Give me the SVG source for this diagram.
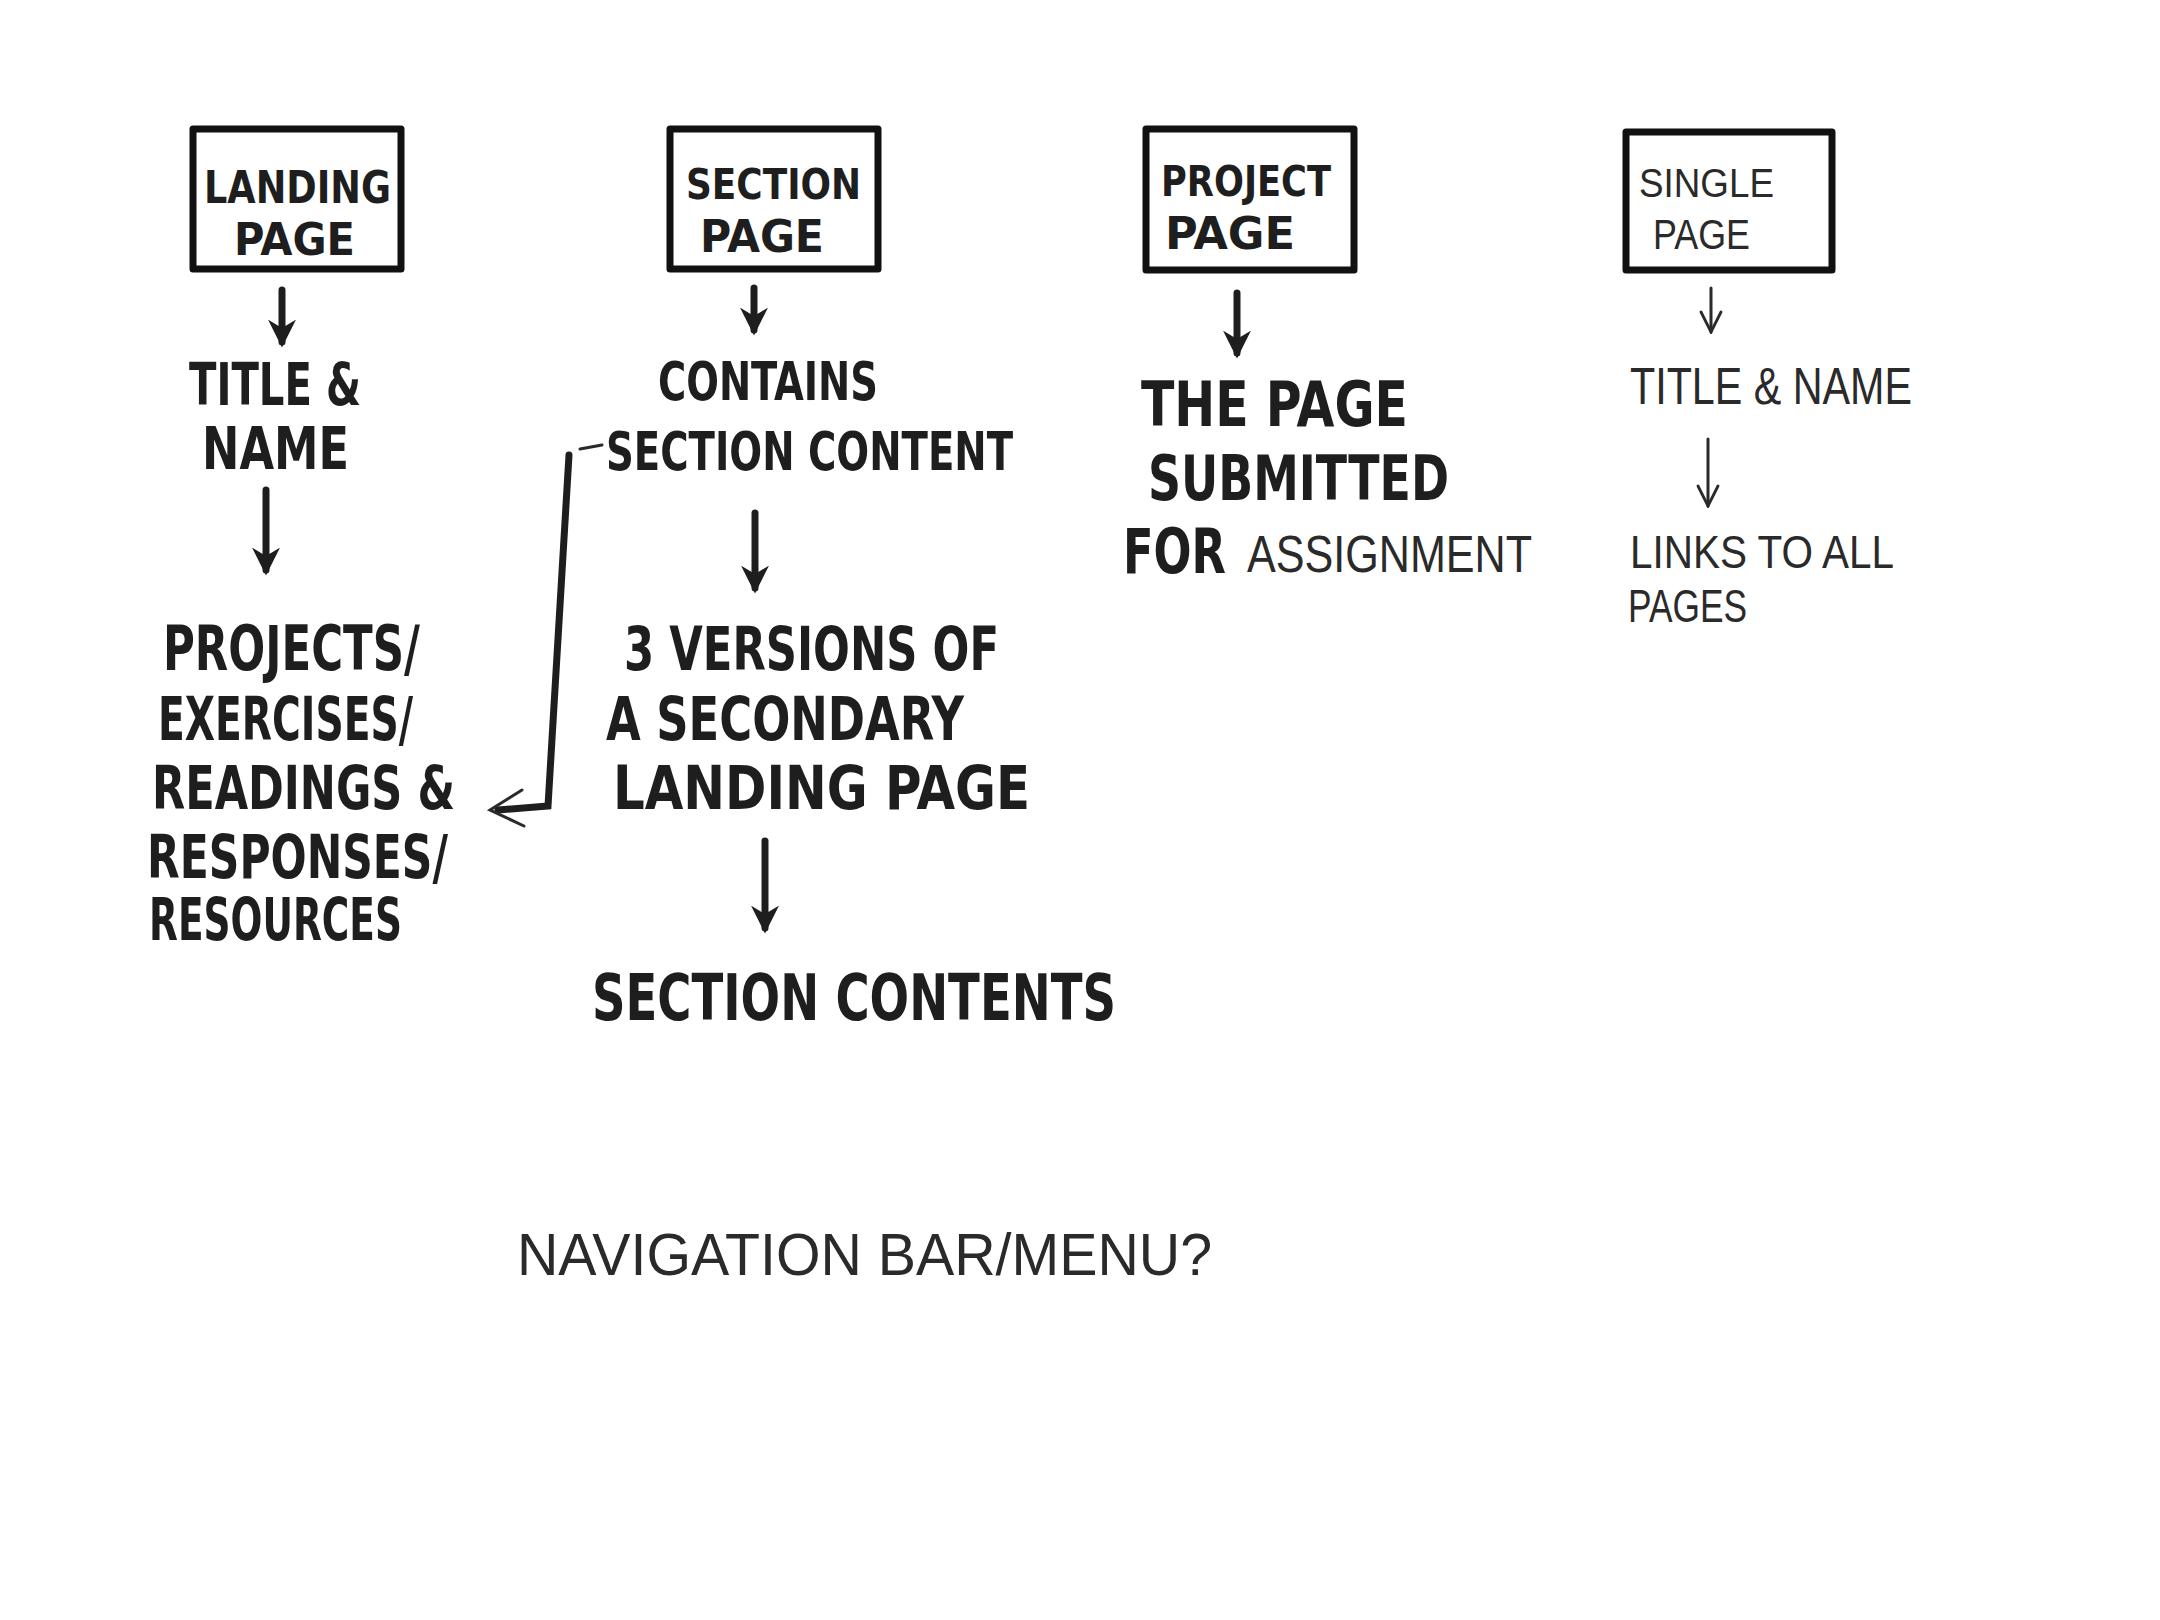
<svg xmlns="http://www.w3.org/2000/svg" width="2160" height="1620" viewBox="0 0 2160 1620">
<style>
.box{fill:#fff;stroke:#111;stroke-width:7;stroke-linejoin:round}
.b{font-family:"DejaVu Sans Condensed","DejaVu Sans","Liberation Sans",sans-serif;font-weight:bold;fill:#1e1e1e}
.t{font-family:"Liberation Sans","DejaVu Sans",sans-serif;font-weight:normal;fill:#2a2a2a}
.thick{fill:none;stroke:#1e1e1e;stroke-width:7;stroke-linecap:round}
.thin{fill:none;stroke:#2a2a2a;stroke-width:3;stroke-linecap:round}
</style>
<defs>
<marker id="hb" viewBox="0 0 10 10" refX="8" refY="5" markerWidth="4" markerHeight="4" orient="auto" markerUnits="strokeWidth">
<path d="M0,0 L10,5 L0,10 L3,5 z" fill="#1e1e1e"/>
</marker>
<marker id="ho" viewBox="0 0 12 12" refX="11" refY="6" markerWidth="8" markerHeight="8" orient="auto" markerUnits="strokeWidth">
<path d="M1,1 L11,6 L1,11" fill="none" stroke="#2a2a2a" stroke-width="1.4" stroke-linecap="round"/>
</marker>
</defs>
<rect width="2160" height="1620" fill="#fff"/>

<g id="node-landing">
<rect class="box" x="193" y="129" width="208" height="140"/>
<text class="b" x="204" y="203" font-size="44" textLength="187" lengthAdjust="spacingAndGlyphs">LANDING</text>
<text class="b" x="234" y="255" font-size="44" textLength="121" lengthAdjust="spacingAndGlyphs">PAGE</text>
</g>
<g id="node-section">
<rect class="box" x="670" y="129" width="208" height="140"/>
<text class="b" x="686" y="199" font-size="42" textLength="175" lengthAdjust="spacingAndGlyphs">SECTION</text>
<text class="b" x="700" y="252" font-size="44" textLength="124" lengthAdjust="spacingAndGlyphs">PAGE</text>
</g>
<g id="node-project">
<rect class="box" x="1146" y="129" width="208" height="141"/>
<text class="b" x="1161" y="196" font-size="42" textLength="170" lengthAdjust="spacingAndGlyphs">PROJECT</text>
<text class="b" x="1165" y="249" font-size="44" textLength="130" lengthAdjust="spacingAndGlyphs">PAGE</text>
</g>
<g id="node-single">
<rect class="box" x="1626" y="132" width="206" height="138"/>
<text class="t" x="1639" y="197" font-size="40" textLength="135" lengthAdjust="spacingAndGlyphs">SINGLE</text>
<text class="t" x="1653" y="249" font-size="42" textLength="97" lengthAdjust="spacingAndGlyphs">PAGE</text>
</g>

<g id="landing-texts">
<text class="b" x="189" y="405" font-size="58" textLength="172" lengthAdjust="spacingAndGlyphs">TITLE &amp;</text>
<text class="b" x="202" y="469" font-size="58" textLength="147" lengthAdjust="spacingAndGlyphs">NAME</text>
<text class="b" x="163" y="670" font-size="62" textLength="257" lengthAdjust="spacingAndGlyphs">PROJECTS/</text>
<text class="b" x="158" y="740" font-size="60" textLength="255" lengthAdjust="spacingAndGlyphs">EXERCISES/</text>
<text class="b" x="152" y="809" font-size="60" textLength="303" lengthAdjust="spacingAndGlyphs">READINGS &amp;</text>
<text class="b" x="147" y="878" font-size="60" textLength="301" lengthAdjust="spacingAndGlyphs">RESPONSES/</text>
<text class="b" x="149" y="940" font-size="58" textLength="253" lengthAdjust="spacingAndGlyphs">RESOURCES</text>
</g>

<g id="section-texts">
<text class="b" x="658" y="400" font-size="54" textLength="220" lengthAdjust="spacingAndGlyphs">CONTAINS</text>
<text class="b" x="606" y="470" font-size="54" textLength="407" lengthAdjust="spacingAndGlyphs">SECTION CONTENT</text>
<text class="b" x="624" y="670" font-size="60" textLength="375" lengthAdjust="spacingAndGlyphs">3 VERSIONS OF</text>
<text class="b" x="606" y="740" font-size="60" textLength="358" lengthAdjust="spacingAndGlyphs">A SECONDARY</text>
<text class="b" x="613" y="809" font-size="60" textLength="417" lengthAdjust="spacingAndGlyphs">LANDING PAGE</text>
<text class="b" x="592" y="1020" font-size="64" textLength="524" lengthAdjust="spacingAndGlyphs">SECTION CONTENTS</text>
</g>

<g id="project-texts">
<text class="b" x="1141" y="426" font-size="62" textLength="267" lengthAdjust="spacingAndGlyphs">THE PAGE</text>
<text class="b" x="1148" y="500" font-size="62" textLength="301" lengthAdjust="spacingAndGlyphs">SUBMITTED</text>
<text class="b" x="1123" y="573" font-size="62" textLength="103" lengthAdjust="spacingAndGlyphs">FOR</text>
<text class="t" x="1247" y="572" font-size="52" textLength="285" lengthAdjust="spacingAndGlyphs">ASSIGNMENT</text>
</g>

<g id="single-texts">
<text class="t" x="1630" y="404" font-size="52" textLength="282" lengthAdjust="spacingAndGlyphs">TITLE &amp; NAME</text>
<text class="t" x="1630" y="568" font-size="46" textLength="264" lengthAdjust="spacingAndGlyphs">LINKS TO ALL</text>
<text class="t" x="1628" y="622" font-size="46" textLength="119" lengthAdjust="spacingAndGlyphs">PAGES</text>
</g>

<g id="nav">
<text class="t" x="517" y="1275" font-size="60" textLength="695" lengthAdjust="spacingAndGlyphs">NAVIGATION BAR/MENU?</text>
</g>

<g id="connectors">
<path class="thick" d="M282,290 L282,342" marker-end="url(#hb)"/>
<path class="thick" d="M266,490 L266,570" marker-end="url(#hb)"/>
<path class="thick" d="M754,288 L754,330" marker-end="url(#hb)"/>
<path class="thick" d="M755,513 L755,588" marker-end="url(#hb)"/>
<path class="thick" d="M765,841 L765,928" marker-end="url(#hb)"/>
<path class="thick" d="M1237,293 L1237,353" marker-end="url(#hb)"/>
<path class="thin" d="M1711,288 L1711,332" marker-end="url(#ho)"/>
<path class="thin" d="M1708,439 L1708,506" marker-end="url(#ho)"/>
<path class="thin" d="M580,449 L602,445"/>
<path class="thick" d="M569,455 L548,806 L498,810" stroke-width="6"/>
<path class="thin" d="M522,790 L490,810 L524,826" stroke-width="3.5"/>
</g>
</svg>
